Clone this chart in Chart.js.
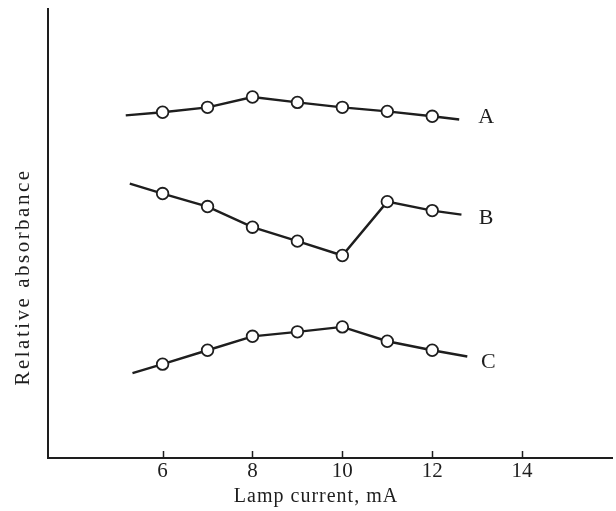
<!DOCTYPE html>
<html>
<head>
<meta charset="utf-8">
<script src="https://cdn.jsdelivr.net/npm/chart.js@4.4.0/dist/chart.umd.min.js"></script>
<style>
  html, body { margin: 0; padding: 0; background: #fff; }
  #wrap { width: 616px; height: 511px; }
</style>
</head>
<body>
<div id="wrap"><canvas id="chart" width="616" height="511"></canvas></div>
<script>
/* lamp current (mA) where the circles sit */
const currents = [6, 7, 8, 9, 10, 11, 12];

/* relative absorbance (arbitrary units, axis = 0) */
const absA = [0.770, 0.781, 0.804, 0.792, 0.781, 0.772, 0.761];
const absB = [0.589, 0.560, 0.514, 0.483, 0.451, 0.571, 0.551];
const absC = [0.209, 0.240, 0.271, 0.281, 0.292, 0.260, 0.240];

/* the drawn lines run a little past the first and last circle */
const startA = [5.18, 0.763], endA = [12.6, 0.754];
const startB = [5.27, 0.611], endB = [12.65, 0.542];
const startC = [5.33, 0.189], endC = [12.78, 0.226];

const seriesNames = ['A', 'B', 'C'];
const nameX = [13.2, 13.2, 13.25];
const nameY = [0.759, 0.535, 0.214];

const xTicks = [6, 8, 10, 12, 14];
const xTitle = 'Lamp current, mA';
const yTitle = 'Relative absorbance';

const ink = '#1e1e1e';
const serif = "'Liberation Serif', 'DejaVu Serif', serif";

function buildLine(start, vals, end) {
  const pts = [{x: start[0], y: start[1]}];
  currents.forEach((c, i) => pts.push({x: c, y: vals[i]}));
  pts.push({x: end[0], y: end[1]});
  return pts;
}

function lineSet(label, pts) {
  return {
    label: label,
    data: pts,
    borderColor: ink,
    borderWidth: 2.4,
    tension: 0,
    pointBackgroundColor: '#fff',
    pointBorderColor: ink,
    pointBorderWidth: 1.8,
    pointRadius: ctx => (ctx.dataIndex === 0 || ctx.dataIndex === pts.length - 1) ? 0 : 5.8
  };
}

/* tick marks pointing up, curve names and spaced-out axis titles */
const extras = {
  id: 'extras',
  afterDraw(chart) {
    const {ctx, chartArea, scales: {x, y}} = chart;
    ctx.save();
    ctx.strokeStyle = ink;
    ctx.lineWidth = 1.5;
    xTicks.forEach(v => {
      const px = Math.round(x.getPixelForValue(v)) + 0.5;
      ctx.beginPath();
      ctx.moveTo(px, chartArea.bottom);
      ctx.lineTo(px, chartArea.bottom - 7);
      ctx.stroke();
    });

    ctx.fillStyle = ink;
    ctx.font = '22px ' + serif;
    ctx.textAlign = 'center';
    ctx.textBaseline = 'middle';
    seriesNames.forEach((n, i) => {
      ctx.fillText(n, x.getPixelForValue(nameX[i]), y.getPixelForValue(nameY[i]));
    });

    ctx.font = '20px ' + serif;
    ctx.letterSpacing = '1px';
    ctx.textBaseline = 'alphabetic';
    ctx.fillText(xTitle, 316, 502);

    ctx.translate(29, 277);
    ctx.rotate(-Math.PI / 2);
    ctx.font = '21px ' + serif;
    ctx.letterSpacing = '2.5px';
    ctx.fillText(yTitle, 0, 0);
    ctx.restore();
  }
};

new Chart(document.getElementById('chart'), {
  type: 'line',
  data: {
    datasets: [
      lineSet('A', buildLine(startA, absA, endA)),
      lineSet('B', buildLine(startB, absB, endB)),
      lineSet('C', buildLine(startC, absC, endC))
    ]
  },
  options: {
    responsive: false,
    animation: false,
    devicePixelRatio: 1,
    layout: { padding: { top: 9, right: 4, left: 0, bottom: 0 } },
    plugins: { legend: { display: false }, tooltip: { enabled: false } },
    scales: {
      x: {
        type: 'linear',
        min: 3.45,
        max: 16,
        afterBuildTicks: s => { s.ticks = xTicks.map(v => ({value: v})); },
        afterFit: s => { s.height = 53; },
        grid: { display: false, drawTicks: false },
        border: { display: true, color: ink, width: 2 },
        ticks: {
          color: ink,
          padding: 1,
          autoSkip: false,
          maxRotation: 0,
          font: { family: serif, size: 21 }
        }
      },
      y: {
        min: 0,
        max: 1,
        afterFit: s => { s.width = 48; },
        grid: { display: false, drawTicks: false },
        border: { display: true, color: ink, width: 2 },
        ticks: { display: false }
      }
    }
  },
  plugins: [extras]
});
</script>
</body>
</html>
